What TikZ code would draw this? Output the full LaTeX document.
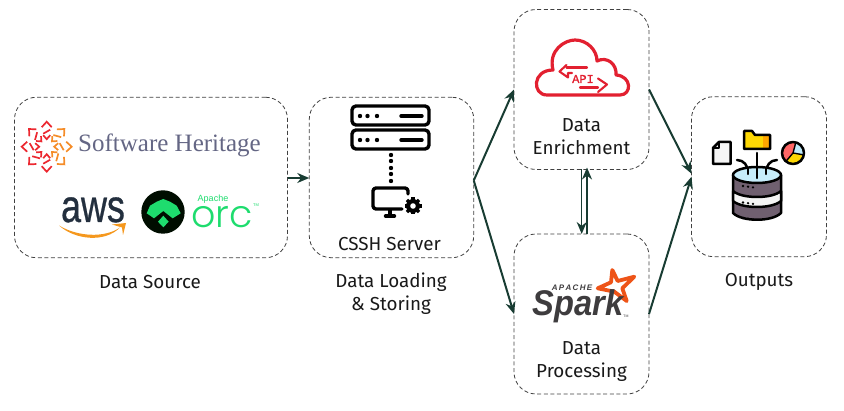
\documentclass[tikz,border=0pt]{standalone}
\usepackage{fontspec}
\setsansfont{Fira Sans}
\newfontfamily\herit{Liberation Serif}
\newfontfamily\logosans{Liberation Sans}
\newfontfamily\awsfont[FakeBold=0.8]{Liberation Sans}
\newfontfamily\apifont[FakeBold=1.5]{Liberation Mono}
\newfontfamily\orcfont{Poppins Light}
\usepackage{xcolor}
\usetikzlibrary{arrows.meta,positioning,calc}
\definecolor{flowgreen}{RGB}{24,60,50}
\definecolor{shred}{RGB}{236,40,48}
\definecolor{shorange}{RGB}{245,140,40}
\definecolor{shtext}{RGB}{100,102,132}
\definecolor{awsink}{RGB}{35,47,62}
\definecolor{awsorange}{RGB}{245,152,30}
\definecolor{orcgreen}{RGB}{30,220,110}
\definecolor{apired}{RGB}{226,32,48}
\definecolor{sparkink}{RGB}{62,60,62}
\definecolor{sparkstar}{RGB}{238,84,24}
\definecolor{mauve}{RGB}{112,96,112}
\tikzset{
  stage/.style={draw=black!75, line width=0.8pt, dash pattern=on 4pt off 2.6pt, rounded corners=22pt,
    inner sep=0pt, outer sep=0pt},
  lbl/.style={font=\fontsize{18.8}{23}\selectfont\sffamily, text=black!90, align=center, inner sep=0pt},
  flow/.style={draw=flowgreen, line width=2pt, -{Stealth[length=12pt,width=10pt]}},
  icon/.style={draw=black, line width=3.4pt, line cap=round, line join=round},
  thinicon/.style={draw=black, line width=2.5pt, line cap=round, line join=round},
  apiline/.style={draw=apired, line width=2.1pt, line cap=round, line join=round},
  shmark/.style={line width=1.7pt, line join=miter}
}
\begin{document}
\begin{tikzpicture}[x=1pt,y=-1pt,font=\sffamily]
  \useasboundingbox (0,0) rectangle (844,411);
  % boxes
  \node[stage, minimum width=273pt, minimum height=160.5pt] (source) at (151,177.5){};
  \node[stage, minimum width=164.5pt, minimum height=160.5pt] (server) at (391.5,177.5){};
  \node[stage, minimum width=135pt, minimum height=160pt] (enrich) at (581.5,89.5){};
  \node[stage, minimum width=135pt, minimum height=160pt] (proc) at (581.5,314){};
  \node[stage, minimum width=135pt, minimum height=160pt] (outs) at (759,176.7){};
  % labels
  \node[lbl] (sourcelbl) at (150,282){Data Source};
  \node[lbl] (serverlbl) at (391,294){Data Loading\\\& Storing};
  \node[lbl] (outslbl) at (759,282){Outputs};
  \node[lbl] (cssh) at (389.5,244){CSSH Server};
  \node[lbl] (enrichlbl) at (581.5,136.5){Data\\Enrichment};
  \node[lbl] (proclbl) at (581.5,361.5){Data\\Processing};
  % connectors
  \draw[flow] (source.east |- 0,178) -- (server.west |- 0,178);
  \draw[flow] ([yshift=-3pt]server.east) -- (enrich.west);
  \draw[flow] ([yshift=-3pt]server.east) -- (proc.west);
  \draw[flow] (enrich.east) -- ([yshift=3pt]outs.west);
  \draw[flow] (proc.east) -- (outs.west);
  \draw[flow, line width=1.2pt] ([xshift=0.2pt]enrich.south) -- ([xshift=0.2pt]proc.north);
  \draw[flow] ([xshift=5.5pt]proc.north) -- ([xshift=5.5pt,yshift=2pt]enrich.south);
  % software heritage
  \foreach \a/\c in {0/shorange,45/shorange,90/shred,135/shred,180/shred,225/shred,270/shred,315/shorange}{
    \begin{scope}[shift={(46.7,146.7)},rotate=\a,shmark,draw=\c]
      \draw (19.5,-5) -- (25,0) -- (19.5,5);
      \draw (13,-3.5) -- (17,3.5);
      \draw (11.5,-3.5) -- (7.5,0) -- (11.5,3.5);
    \end{scope}
  }
  \node[text=shtext, font=\fontsize{25}{28}\selectfont\herit] (heritage) at (169.5,145){Software Heritage};
  % aws
  \node[text=awsink, font=\fontsize{46}{46}\selectfont\awsfont, inner sep=0pt, anchor=base] (aws) at (93,222){\scalebox{.78}[1]{aws}};
  \fill[awsorange] (59,225.5) .. controls (75,240) and (105,243) .. (120,227.5) .. controls (105,238) and (78,237) .. (59,225.5) -- cycle;
  \fill[awsorange] (112,224.5) -- (126,223) -- (123,235) -- (122,227.5) -- cycle;
  % orc
  \fill[black!95!green] (163,212) circle[radius=21.7];
  \fill[orcgreen] (150,205.7) -- (156.7,201.7) -- (163.3,199) -- (170,201.7) -- (176.7,205.7) -- (180.7,213.3)
    -- (172.7,218.3) -- (163.3,211) -- (154,218.3) -- (146.7,213.3) -- cycle;
  \fill[orcgreen] (163.3,215.7) -- (168.7,221.7) -- (163.3,227.3) -- (158,221.7) -- cycle;
  \node[text=orcgreen, font=\fontsize{9}{10}\selectfont\logosans, inner sep=0pt] (apacheorc) at (213,199.5){Apache};
  \node[text=orcgreen, font=\fontsize{38}{38}\selectfont\orcfont, inner sep=0pt, anchor=base] (orc) at (222,228){orc};
  \node[text=orcgreen, font=\fontsize{4}{4}\selectfont\logosans, inner sep=0pt] (orctm) at (256,205){TM};
  % server icon
  \draw[icon, rounded corners=4pt] (352,106) rectangle (429,125);
  \draw[icon, rounded corners=4pt] (352,130) rectangle (429,149);
  \foreach \y in {116,140}{
    \foreach \x in {360,367.5,377}{
      \fill (\x,\y) circle[radius=2.2];
    }
    \draw[icon] (401,\y) -- (422,\y);
  }
  \foreach \y in {155,161,168,174,181}{
    \fill (391,\y) circle[radius=2.2];
  }
  \draw[icon, rounded corners=3pt] (408,194) -- (408,188) -- (373,188) -- (373,209) -- (402,209);
  \draw[icon] (390,210) -- (390,215);
  \draw[icon] (385.5,216) -- (394.5,216);
  \fill (413,206) circle[radius=7];
  \foreach \a in {0,45,...,315}{
    \draw[line width=3.4pt, rotate around={\a:(413,206)}] (417,206) -- (421.5,206);
  }
  \fill[white] (413,206) circle[radius=2.8];
  % cloud
  \draw[draw=apired, line width=3.2pt, line join=round]
    (547,95) .. controls (532,95) and (532,70) .. (553,70) .. controls (548,50) and (565,40) .. (575,40)
    .. controls (587,40) and (597,50) .. (597,61) .. controls (607,56) and (617,64) .. (616,75)
    .. controls (632,76) and (632,95) .. (620,95) -- cycle;
  \node[text=apired, font=\fontsize{12}{12}\selectfont\apifont, inner sep=0pt] (api) at (583,79){API};
  \draw[apiline] (587,67.5) -- (566.5,67.5);
  \draw[apiline] (566.5,65) -- (559.5,71.5) -- (568,77.5) -- (568,73) -- (572,73);
  \draw[apiline] (580,87.5) -- (598,87.5);
  \draw[apiline] (598,78.5) -- (607,84.5) -- (598,92);
  % spark
  \draw[sparkstar, line width=3.8pt, line join=round, fill=white] (612.3,270) -- (617.7,281) -- (634.3,276.7) -- (622.3,288.3)
    -- (626.7,301) -- (614.3,291.7) -- (597.7,288.3) -- (611,282.3) -- cycle;
  \node[text=sparkink, font=\fontsize{34}{34}\selectfont\logosans\bfseries\itshape, inner sep=0pt, anchor=base] (spark) at (578,316){\scalebox{.96}[1.05]{Spark}};
  \node[text=sparkink, font=\fontsize{8}{8}\selectfont\logosans\bfseries\itshape, inner sep=0pt] (apachespark) at (572,288){A\,P\,A\,C\,H\,E};
  \node[text=sparkink, font=\fontsize{3.5}{4}\selectfont\logosans, inner sep=0pt] (sparktm) at (626,316.5){TM};
  % outputs icon
  \draw[thinicon, fill=black!4] (719,142) -- (730.5,142) -- (730.5,164) -- (713,164) -- (713,148) -- cycle;
  \draw[thinicon] (713,148) -- (719,148) -- (719,142);
  \fill[yellow!75!orange] (744,149) -- (744,131) -- (752,131) -- (755,135) -- (770,135) -- (770,149) -- cycle;
  \fill[orange!70!yellow] (763,136) rectangle (769,148);
  \draw[thinicon] (744,149) -- (744,131) -- (752,131) -- (755,135) -- (770,135) -- (770,149) -- cycle;
  \begin{scope}[shift={(793,153)},y=1pt]
    \fill[red!60!white] (0,0) -- (75:10.5) arc[start angle=75,end angle=230,radius=10.5] -- cycle;
    \fill[yellow!75!orange] (0,0) -- (230:10.5) arc[start angle=230,end angle=350,radius=10.5] -- cycle;
    \fill[cyan!25] (0,0) -- (350:10.5) arc[start angle=350,end angle=435,radius=10.5] -- cycle;
    \draw[thinicon] (0,0) circle[radius=11];
    \draw[thinicon, line width=1.4pt] (75:10.5) -- (0,0) -- (230:10.5) (0,0) -- (350:10.5);
  \end{scope}
  \draw[thinicon] (757,153) -- (757,177);
  \draw[thinicon] (737,160) .. controls (744,160) and (748,166) .. (748,172);
  \draw[thinicon] (777,160) .. controls (770,160) and (766,166) .. (766,172);
  \draw[thinicon, fill=mauve] (733,175) -- (733,213) .. controls (742,222) and (772,222) .. (781,213) -- (781,175) -- cycle;
  \draw[thinicon, fill=black!4] (733,191) .. controls (742,199) and (772,199) .. (781,191) -- (781,201)
    .. controls (772,209) and (742,209) .. (733,201) -- cycle;
  \draw[thinicon, fill=cyan!22] (757,175) ellipse[x radius=24, y radius=8];
  \draw[thinicon] (757,167) -- (757,178) (748,168.5) -- (748,174) (766,168.5) -- (766,174);
  \foreach \y in {0,16.5,32}{
    \foreach \x/\d in {743/0,748/1,753/2}{
      \fill (\x,186+\y+\d*0.7) circle[radius=1.3];
    }
  }
\end{tikzpicture}
\end{document}
